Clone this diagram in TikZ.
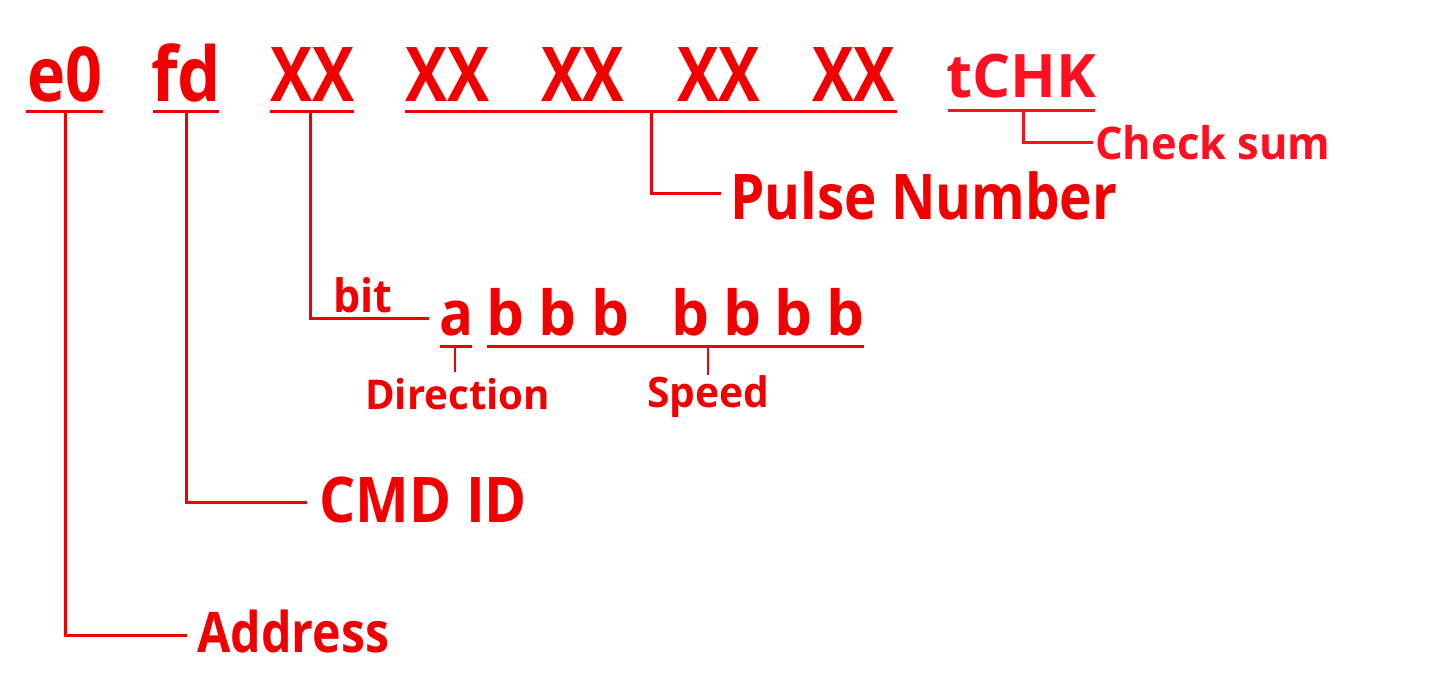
\documentclass[tikz,border=0pt]{standalone}
\usepackage{fontspec}
\setmainfont{Open Sans}
\usepackage{graphicx}
\definecolor{rd}{RGB}{240,0,0}
\definecolor{rdb}{RGB}{255,16,32}
\newcommand{\fw}[3]{\resizebox{#1pt}{\height}{\fontsize{#2}{#2}\selectfont\bfseries #3}}
\begin{document}
\begin{tikzpicture}[x=1pt,y=-1pt,
  txt/.style={anchor=base west,inner sep=0pt,text=rd},
  txtb/.style={anchor=base west,inner sep=0pt,text=rdb},
  ln/.style={draw=rd,line width=3pt},
  lnb/.style={draw=rdb,line width=3pt},
  tk/.style={draw=rd,line width=2.5pt}]
\useasboundingbox[fill=white] (0,0) rectangle (1450,690);

% top row
\node[txt] (e0) at (27,102) {\fw{75}{75.6}{e0}};
\node[txt] (fd) at (151,102) {\fw{70}{75.6}{fd}};
\node[txt] (x1) at (270,102) {\fw{84}{75.6}{XX}};
\node[txt] (x2) at (405,102) {\fw{84}{75.6}{XX}};
\node[txt] (x3) at (541,102) {\fw{83}{75.6}{XX}};
\node[txt] (x4) at (677,102) {\fw{83}{75.6}{XX}};
\node[txt] (x5) at (812,102) {\fw{83}{75.6}{XX}};
\node[txtb] (chk) at (946,98) {\fw{150}{60}{tCHK}};

% labels
\node[txtb] (csum) at (1095,159) {\fw{235}{45}{Check sum}};
\node[txt] (pulse) at (730,219) {\fw{387}{63}{Pulse Number}};
\node[txt] (cmd) at (319,522) {\fw{208}{63}{CMD ID}};
\node[txt] (addr) at (197,652) {\fw{192}{56}{Address}};
\node[txt] (bit) at (333,312) {\fw{59}{46}{bit}};
\node[txt] (a) at (439,335) {\fw{34}{62}{a}};
\node[txt] (b1) at (486,335) {\fw{38}{62}{b}};
\node[txt] (b2) at (538,335) {\fw{38}{62}{b}};
\node[txt] (b3) at (591,335) {\fw{38}{62}{b}};
\node[txt] (b4) at (671,335) {\fw{38}{62}{b}};
\node[txt] (b5) at (723,335) {\fw{38}{62}{b}};
\node[txt] (b6) at (774,335) {\fw{38}{62}{b}};
\node[txt] (b7) at (826,335) {\fw{38}{62}{b}};
\node[txt] (dir) at (365,409) {\fw{185}{41}{Direction}};
\node[txt] (spd) at (647,407) {\fw{122}{42}{Speed}};

% underline end points and connector points
\coordinate (e0L) at (26,112);  \coordinate (e0R) at (103,112); \coordinate (e0T) at (65,112);
\coordinate (fdL) at (153,112); \coordinate (fdR) at (219,112); \coordinate (fdT) at (186,112);
\coordinate (x1L) at (270,112); \coordinate (x1R) at (354,112); \coordinate (x1T) at (310,112);
\coordinate (xgL) at (405,112); \coordinate (xgR) at (897,112); \coordinate (xgT) at (651,112);
\coordinate (chL) at (948,111); \coordinate (chR) at (1095,111); \coordinate (chT) at (1023,111);
\coordinate (aL) at (440,346);  \coordinate (aR) at (472,346);  \coordinate (aT) at (455,346);
\coordinate (bL) at (487,346);  \coordinate (bR) at (864,346);  \coordinate (bT) at (708,346);

\coordinate (addrE) at (187,635);
\coordinate (cmdE) at (307,502);
\coordinate (bitE) at (429,318);
\coordinate (pulseE) at (721,193);
\coordinate (csumE) at (1093,142);
\coordinate (dirE) at (455,372);
\coordinate (spdE) at (708,375);

% underlines
\draw[ln] (e0L) -- (e0R);
\draw[ln] (fdL) -- (fdR);
\draw[ln] (x1L) -- (x1R);
\draw[ln] (xgL) -- (xgR);
\draw[lnb] (chL) -- (chR);
\draw[ln] (aL) -- (aR);
\draw[ln] (bL) -- (bR);

% connectors
\draw[ln] (e0T) |- (addrE);
\draw[ln] (fdT) |- (cmdE);
\draw[ln] (x1T) |- (bitE);
\draw[ln] (xgT) |- (pulseE);
\draw[lnb] (chT) |- (csumE);
\draw[tk] (aT) -- (dirE);
\draw[tk] (bT) -- (spdE);
\end{tikzpicture}
\end{document}
